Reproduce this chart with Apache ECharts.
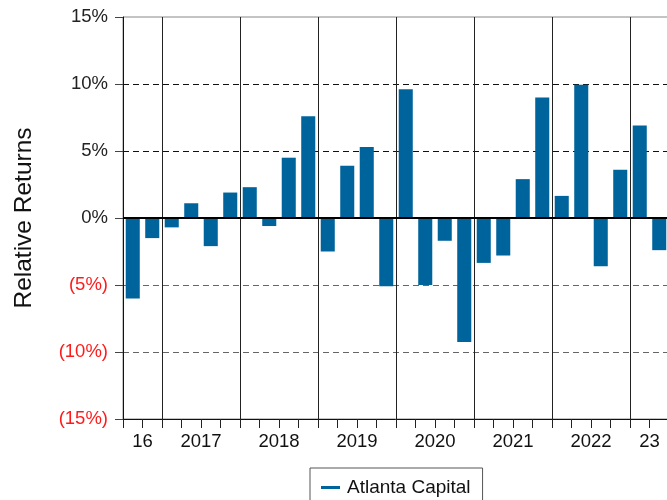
<!DOCTYPE html>
<html>
<head>
<meta charset="utf-8">
<script src="https://cdn.jsdelivr.net/npm/echarts@6/dist/echarts.min.js"></script>
<style>
  html, body { margin: 0; padding: 0; background: #fff; }
  #main { width: 667px; height: 500px; }
</style>
</head>
<body>
<div id="main"></div>
<script>
// quarterly relative returns, in %
var quarters = ['2016Q3', '2016Q4',
  '2017Q1', '2017Q2', '2017Q3', '2017Q4',
  '2018Q1', '2018Q2', '2018Q3', '2018Q4',
  '2019Q1', '2019Q2', '2019Q3', '2019Q4',
  '2020Q1', '2020Q2', '2020Q3', '2020Q4',
  '2021Q1', '2021Q2', '2021Q3', '2021Q4',
  '2022Q1', '2022Q2', '2022Q3', '2022Q4',
  '2023Q1', '2023Q2'];
var returns = [-6.0, -1.5,
  -0.7, 1.1, -2.1, 1.9,
  2.3, -0.6, 4.5, 7.6,
  -2.5, 3.9, 5.3, -5.1,
  9.6, -5.0, -1.7, -9.25,
  -3.35, -2.8, 2.9, 9.0,
  1.65, 9.95, -3.6, 3.6,
  6.9, -2.4];
var years = ['2016', '2017', '2018', '2019', '2020', '2021', '2022', '2023'];
var yearLabels = ['16', '2017', '2018', '2019', '2020', '2021', '2022', '23'];
var seriesName = 'Atlanta Capital';

// year label sits at the middle of that year's quarters
var labelAt = {};
years.forEach(function (y, i) {
  var idx = [];
  quarters.forEach(function (q, j) { if (q.indexOf(y) === 0) idx.push(j); });
  var mid = (idx[0] + idx[idx.length - 1] + 1) / 2;
  labelAt[mid] = yearLabels[i];
});

var myChart = echarts.init(document.getElementById('main'));

var option = {
  animation: false,
  textStyle: { fontFamily: 'Liberation Sans, Arial, sans-serif' },
  grid: {
    left: 123, width: 546, top: 17, bottom: 81,
    outerBoundsMode: 'none',
    show: true, borderColor: '#888', borderWidth: 1
  },
  legend: {
    data: [seriesName],
    left: 310, top: 468,
    padding: [10, 12, 12, 11],
    borderColor: '#555', borderWidth: 1,
    itemWidth: 19, itemHeight: 3, itemGap: 8,
    icon: 'rect',
    textStyle: { fontSize: 19, color: '#111', padding: [0, 0, 0, 2] }
  },
  xAxis: [
    {
      type: 'category',
      data: quarters,
      boundaryGap: true,
      axisLine: { onZero: false, lineStyle: { color: '#111', width: 1 } },
      axisTick: { show: true, interval: 0, length: 9, lineStyle: { color: '#222' } },
      axisLabel: { show: false },
      splitLine: {
        show: true,
        interval: function (index) { return quarters[index] && quarters[index].slice(4) === 'Q1'; },
        lineStyle: { color: '#222', width: 1 }
      }
    },
    {
      type: 'value',
      position: 'bottom',
      min: 0, max: quarters.length, interval: 1,
      axisLine: { show: false, onZero: false },
      axisTick: { show: false },
      splitLine: { show: false },
      axisLabel: {
        margin: 13, fontSize: 18.5, color: '#111',
        showMinLabel: true, showMaxLabel: true,
        formatter: function (v) { return labelAt[v] || ''; }
      }
    }
  ],
  yAxis: {
    type: 'value',
    min: -15, max: 15, interval: 5,
    name: 'Relative Returns',
    nameLocation: 'middle',
    nameGap: 86,
    nameTextStyle: { fontSize: 24.5, color: '#111' },
    axisLine: { show: true, lineStyle: { color: '#111' } },
    axisTick: { show: true, length: 8, lineStyle: { color: '#444' } },
    axisLabel: {
      fontSize: 18.5, color: '#222', margin: 15,
      formatter: function (v) {
        if (v < 0) return '{neg|(' + (-v) + '%)}';
        return v + '%';
      },
      rich: { neg: { color: '#ff1a1a', fontSize: 18.5 } }
    },
    splitLine: {
      show: true,
      lineStyle: {
        type: [6, 4],
        color: ['transparent', '#666', '#666', 'transparent', '#111', '#111', 'transparent']
      }
    }
  },
  series: [
    {
      name: seriesName,
      type: 'bar',
      xAxisIndex: 0,
      data: returns,
      barWidth: '72%',
      itemStyle: { color: '#00649c' },
      markLine: {
        silent: true,
        symbol: 'none',
        label: { show: false },
        lineStyle: { color: '#000', width: 2, type: 'solid' },
        data: [{ yAxis: 0 }]
      }
    }
  ]
};

myChart.setOption(option);
</script>
</body>
</html>
